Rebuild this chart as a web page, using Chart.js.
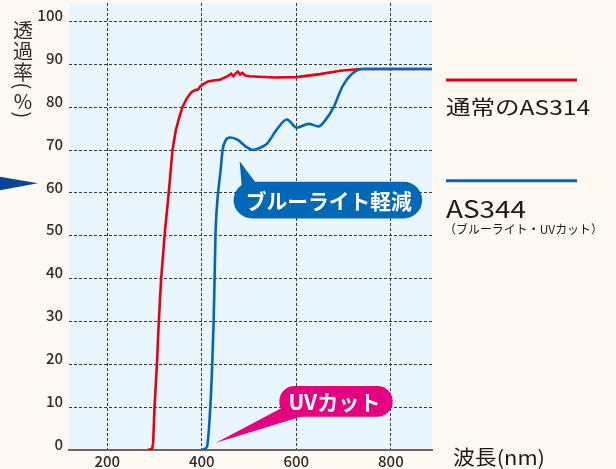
<!DOCTYPE html>
<html><head><meta charset="utf-8">
<script src="https://cdn.jsdelivr.net/npm/chart.js@4"></script>
<style>html,body{margin:0;padding:0;background:#fdf8f1;}canvas{display:block;}</style>
</head><body>
<canvas id="c" width="616" height="469"></canvas>
<script>
// ---- data ----
const redWavelength = [286, 295, 297, 300, 305, 309, 314, 322, 330, 338, 345, 352, 359, 368, 378, 386, 392, 396, 405, 413, 425, 438, 453, 462, 467, 472, 476, 481, 486, 492, 502, 520, 555, 601, 650, 693, 735, 887];
const redTransmit  = [0, 0.3, 1.6, 10, 20, 30, 40, 51, 60, 70, 74.6, 77.5, 80, 82, 83.5, 84, 84.1, 84.8, 85.5, 86, 86.2, 86.4, 87.1, 87.8, 87.2, 87.9, 88.3, 87.6, 88, 87.4, 87.2, 87.1, 86.9, 87, 87.7, 88.5, 88.9, 88.9];
const blueWavelength = [400, 405, 411, 418, 422, 425, 427, 429, 433, 439, 444, 450, 460, 477, 493, 509, 525, 538, 560, 580, 601, 626, 647, 661, 679, 697, 718, 743, 887];
const blueTransmit   = [0, 0.2, 0.8, 10, 20, 30, 40, 50.5, 58.3, 64.5, 70, 72.2, 72.9, 72.3, 70.8, 70, 70.6, 71.5, 75, 77.1, 75.2, 76.1, 75.5, 76.9, 80, 84.7, 87.8, 88.9, 88.9];
const xTicks = [200, 400, 600, 800];
const yTicks = [0, 10, 20, 30, 40, 50, 60, 70, 80, 90, 100];
const seriesNames = ["通常のAS314", "AS344"];
const seriesSub = "（ブルーライト・UVカット）";
const yTitle = ["透", "過", "率", "(", "%", ")"];
const xTitle = "波長(nm)";
const blueNote = {text: "ブルーライト軽減", nm: 480, val: 67.4};
const uvNote = {text: "UVカット", nm: 430, val: 1.7};

const RED = '#e60012', BLUE = '#0068b7', PINK = '#e4007f', TXT = '#332a27';
const JP = '"Noto Sans CJK JP", "Noto Sans", sans-serif';

function pts(xs, ys){ return xs.map((x,i)=>({x, y: ys[i]})); }

function fitText(ctx, text, x, y, width, font, color){
  ctx.save();
  ctx.font = font; ctx.fillStyle = color; ctx.textBaseline = 'middle'; ctx.textAlign = 'left';
  const w = ctx.measureText(text).width;
  ctx.translate(x, y); ctx.scale(width / w, 1);
  ctx.fillText(text, 0, 0);
  ctx.restore();
}
function roundRect(ctx, x, y, w, h, r){
  ctx.beginPath();
  ctx.moveTo(x+r, y); ctx.lineTo(x+w-r, y); ctx.arc(x+w-r, y+r, r, -Math.PI/2, 0);
  ctx.lineTo(x+w, y+h-r); ctx.arc(x+w-r, y+h-r, r, 0, Math.PI/2);
  ctx.lineTo(x+r, y+h); ctx.arc(x+r, y+h-r, r, Math.PI/2, Math.PI);
  ctx.lineTo(x, y+r); ctx.arc(x+r, y+r, r, Math.PI, Math.PI*1.5);
  ctx.closePath();
}

const decor = {
  id: 'decor',
  beforeDraw(chart){
    const {ctx, chartArea: a} = chart;
    ctx.save();
    ctx.fillStyle = '#fdf8f1'; ctx.fillRect(0, 0, chart.width, chart.height);
    ctx.fillStyle = '#eaf6fd'; ctx.fillRect(a.left, a.top, a.right - a.left, a.bottom - a.top);
    ctx.restore();
  },
  afterDraw(chart){
    const {ctx} = chart;
    const xs = chart.scales.x, ys = chart.scales.y;
    ctx.save();
    // y title (vertical, upright characters)
    ctx.fillStyle = TXT; ctx.textAlign = 'center'; ctx.textBaseline = 'middle';
    ctx.font = '20px ' + JP;
    const yPos = [30, 51, 72, 86, 101, 115];
    yTitle.forEach((ch, i) => {
      if (ch === '(' || ch === ')') {
        ctx.save(); ctx.translate(23, yPos[i]); ctx.rotate(Math.PI / 2);
        ctx.fillText(ch, 0, 0); ctx.restore();
      } else {
        ctx.fillText(ch, 23, yPos[i]);
      }
    });
    // left arrow
    ctx.fillStyle = '#0b4696';
    ctx.beginPath(); ctx.moveTo(-2, 176.5); ctx.lineTo(38, 183.3); ctx.lineTo(-2, 190.5); ctx.closePath(); ctx.fill();
    // legend
    const ds = chart.data.datasets;
    ctx.lineWidth = 3;
    ctx.strokeStyle = ds[1].borderColor; ctx.beginPath(); ctx.moveTo(446, 80); ctx.lineTo(577, 80); ctx.stroke();
    ctx.strokeStyle = ds[0].borderColor; ctx.beginPath(); ctx.moveTo(446, 180.7); ctx.lineTo(577, 180.7); ctx.stroke();
    fitText(ctx, seriesNames[0], 446, 107, 144, '20px ' + JP, '#231815');
    fitText(ctx, seriesNames[1], 446, 209, 80, '24px ' + JP, '#231815');
    fitText(ctx, seriesSub, 444, 229, 159, '12px ' + JP, '#231815');
    fitText(ctx, xTitle, 453, 457, 92, '20px ' + JP, '#231815');

    // blue note callout
    let tx = xs.getPixelForValue(blueNote.nm), ty = ys.getPixelForValue(blueNote.val);
    ctx.fillStyle = BLUE;
    ctx.beginPath(); ctx.moveTo(tx, ty); ctx.lineTo(tx + 2, ty + 24); ctx.lineTo(tx + 18, ty + 24); ctx.closePath(); ctx.fill();
    roundRect(ctx, tx - 6, ty + 20.7, 188.5, 36.6, 18.3); ctx.fill();
    fitText(ctx, blueNote.text, tx + 6, ty + 39.5, 166, 'bold 21px ' + JP, '#ffffff');

    // UV note callout
    tx = xs.getPixelForValue(uvNote.nm); ty = ys.getPixelForValue(uvNote.val);
    ctx.fillStyle = PINK;
    ctx.beginPath(); ctx.moveTo(tx, ty); ctx.lineTo(tx + 68, ty - 36); ctx.lineTo(tx + 88, ty - 27); ctx.closePath(); ctx.fill();
    roundRect(ctx, tx + 63.3, ty - 56.7, 113.4, 30.7, 15.3); ctx.fill();
    fitText(ctx, uvNote.text, tx + 72.5, ty - 41, 92, 'bold 21px ' + JP, '#ffffff');
    ctx.restore();
  }
};

new Chart(document.getElementById('c'), {
  type: 'line',
  data: {
    datasets: [
      {label: seriesNames[1], data: pts(blueWavelength, blueTransmit), borderColor: BLUE, borderWidth: 2.6, pointRadius: 0, cubicInterpolationMode: 'monotone', fill: false},
      {label: seriesNames[0], data: pts(redWavelength, redTransmit), borderColor: RED, borderWidth: 2.6, pointRadius: 0, tension: 0, fill: false}
    ]
  },
  options: {
    responsive: false, animation: false, devicePixelRatio: 1,
    layout: {padding: {left: 0, right: 184, top: 3, bottom: 0}},
    plugins: {legend: {display: false}, tooltip: {enabled: false}},
    scales: {
      x: {
        type: 'linear', min: 119, max: 887,
        afterBuildTicks(s){ s.ticks = xTicks.map(v => ({value: v})); },
        afterFit(s){ s.height = 19; s.paddingLeft = 0; s.paddingRight = 0; },
        grid: {color: '#3a3a3a', lineWidth: 1, drawTicks: false},
        border: {display: true, color: '#6e6561', width: 2, dash: [3, 2]},
        ticks: {padding: 2, color: TXT, font: {family: JP, size: 15, weight: 500}, maxRotation: 0}
      },
      y: {
        type: 'linear', min: 0, max: 104.3,
        afterBuildTicks(s){ s.ticks = yTicks.map(v => ({value: v})); },
        afterFit(s){ s.width = 69; s.paddingTop = 0; s.paddingBottom = 0; },
        grid: {color: c => c.tick && c.tick.value === 0 ? 'rgba(0,0,0,0)' : '#3a3a3a', lineWidth: 1, drawTicks: false},
        border: {display: false, dash: [3, 2]},
        ticks: {padding: 6, labelOffset: -6, color: TXT, font: {family: JP, size: 15, weight: 500}}
      }
    }
  },
  plugins: [decor]
});
</script>
</body></html>
